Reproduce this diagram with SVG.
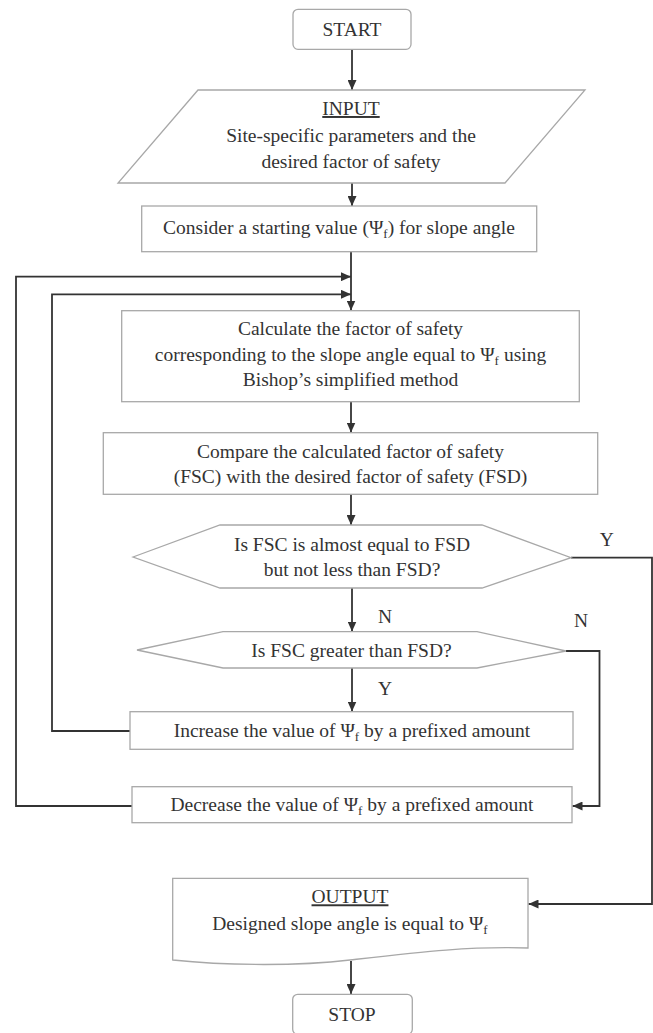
<svg xmlns="http://www.w3.org/2000/svg" width="653" height="1033" viewBox="0 0 653 1033" font-family="'Liberation Serif', 'DejaVu Serif', 'Times New Roman', serif">
<style>
text{font-family:'Liberation Serif','DejaVu Serif','Times New Roman',serif;font-size:19.5px;fill:#333;text-anchor:middle}
.box{fill:#fff;stroke:#a8a8a8;stroke-width:1.3}
.conn{fill:none;stroke:#333;stroke-width:1.8}
.sub{font-size:13px}
.u{text-decoration:underline}
</style>
<defs>
<marker id="ah" markerUnits="userSpaceOnUse" markerWidth="10" markerHeight="9" refX="10" refY="4.5" orient="auto">
<path d="M0,0 L10,4.5 L0,9 z" fill="#333"/>
</marker>
</defs>
<rect width="653" height="1033" fill="#fff"/>
<g id="connectors">
<line class="conn" x1="352" y1="49" x2="352" y2="90" marker-end="url(#ah)"/>
<line class="conn" x1="352" y1="183" x2="352" y2="206" marker-end="url(#ah)"/>
<line class="conn" x1="351" y1="252" x2="351" y2="310.5" marker-end="url(#ah)"/>
<line class="conn" x1="351" y1="402" x2="351" y2="432.5" marker-end="url(#ah)"/>
<line class="conn" x1="351" y1="494.5" x2="351" y2="525" marker-end="url(#ah)"/>
<line class="conn" x1="352" y1="588" x2="352" y2="631.5" marker-end="url(#ah)"/>
<line class="conn" x1="352" y1="668" x2="352" y2="711.5" marker-end="url(#ah)"/>
<polyline class="conn" points="130,731 52,731 52,294.3 351,294.3" marker-end="url(#ah)"/>
<polyline class="conn" points="132,806 16,806 16,276.7 351,276.7" marker-end="url(#ah)"/>
<polyline class="conn" points="566,651 599.5,651 599.5,806 572.5,806" marker-end="url(#ah)"/>
<polyline class="conn" points="571,557.7 652,557.7 652,904 528.5,904" marker-end="url(#ah)"/>
<line class="conn" x1="351" y1="961" x2="351" y2="994" marker-end="url(#ah)"/>
<text x="606.7" y="546" font-family="'Liberation Serif', serif">Y</text>
<text x="385" y="623" font-family="'Liberation Serif', serif">N</text>
<text x="581" y="627" font-family="'Liberation Serif', serif">N</text>
<text x="385" y="695" font-family="'Liberation Serif', serif">Y</text>
</g>
<g id="start">
<rect class="box" x="293" y="9.3" width="118" height="40" rx="5"/>
<text x="352" y="36">START</text>
</g>
<g id="input">
<polygon class="box" points="198,90 585,90 505,183 118,183"/>
<text x="351" y="115" class="u">INPUT</text>
<text x="351" y="141.7">Site-specific parameters and the</text>
<text x="351" y="168">desired factor of safety</text>
</g>
<g id="consider">
<rect class="box" x="141.7" y="206" width="395" height="45.7"/>
<text x="339" y="234">Consider a starting value (Ψ<tspan class="sub" dy="4">f</tspan><tspan dy="-4">) for slope angle</tspan></text>
</g>
<g id="calculate">
<rect class="box" x="121.7" y="310.7" width="457.6" height="91"/>
<text x="350.5" y="335">Calculate the factor of safety</text>
<text x="350.5" y="361">corresponding to the slope angle equal to Ψ<tspan class="sub" dy="4">f</tspan><tspan dy="-4" dx="5">using</tspan></text>
<text x="350.5" y="386">Bishop’s simplified method</text>
</g>
<g id="compare">
<rect class="box" x="103.3" y="432.7" width="494.4" height="61.6"/>
<text x="350.5" y="458">Compare the calculated factor of safety</text>
<text x="350.5" y="483">(FSC) with the desired factor of safety (FSD)</text>
</g>
<g id="decision1">
<polygon class="box" points="133,557 220,525 482,525 571,557.7 482,588 220,588"/>
<text x="352" y="551">Is FSC is almost equal to FSD</text>
<text x="352" y="576">but not less than FSD?</text>
</g>
<g id="decision2">
<polygon class="box" points="137,650 223,631.7 477,631.7 566,651 477,668 223,668"/>
<text x="351.5" y="657">Is FSC greater than FSD?</text>
</g>
<g id="increase">
<rect class="box" x="130" y="711.7" width="443" height="37.6"/>
<text x="352" y="737">Increase the value of Ψ<tspan class="sub" dy="4">f</tspan><tspan dy="-4"> by a prefixed amount</tspan></text>
</g>
<g id="decrease">
<rect class="box" x="132" y="786.7" width="440" height="36"/>
<text x="352" y="811">Decrease the value of Ψ<tspan class="sub" dy="4">f</tspan><tspan dy="-4"> by a prefixed amount</tspan></text>
</g>
<g id="output">
<path class="box" d="M172.7,878.3 H528 V948 C470,946 420,952 350,960 C300,966 230,966 172.7,960 Z"/>
<text x="350" y="903.3" class="u">OUTPUT</text>
<text x="350" y="930">Designed slope angle is equal to Ψ<tspan class="sub" dy="4">f</tspan></text>
</g>
<g id="stop">
<rect class="box" x="292.7" y="994.3" width="119.6" height="40" rx="5"/>
<text x="352" y="1021">STOP</text>
</g>
</svg>
